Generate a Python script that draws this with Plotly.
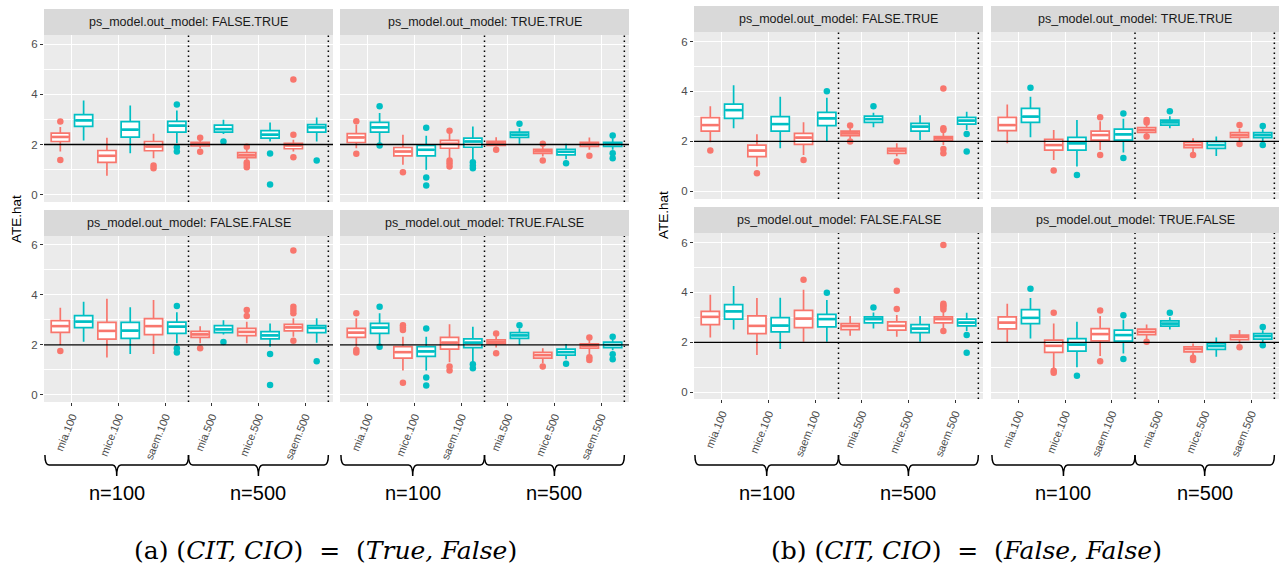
import plotly.graph_objects as go

W, H = 1279, 567

CATS = ["mia.100", "mice.100", "saem.100", "mia.500", "mice.500", "saem.500"]
POS = [1, 2, 3, 4, 5, 6]
RED = "#F8766D"
CYAN = "#00BFC4"

# (lower whisker, q1, median, q3, upper whisker) per category
# ---------- panel (a): (CIT, CIO) = (True, False) ----------
A_FT_RED = [(1.72, 2.12, 2.30, 2.45, 2.70), (0.76, 1.29, 1.55, 1.76, 2.27), (1.45, 1.75, 1.92, 2.12, 2.43),
            (1.85, 1.94, 2.02, 2.09, 2.20), (1.39, 1.48, 1.57, 1.68, 1.79), (1.72, 1.83, 1.96, 2.05, 2.19)]
A_FT_RED_OUT = [[2.92, 1.38], [], [1.16, 1.05], [2.27, 1.71], [1.91, 1.28, 1.19, 1.09], [2.39, 4.59, 1.49]]
A_FT_CYAN = [(2.16, 2.72, 2.96, 3.19, 3.75), (1.65, 2.29, 2.59, 2.91, 3.55), (2.05, 2.49, 2.75, 2.92, 3.35),
             (2.42, 2.49, 2.61, 2.77, 2.99), (2.12, 2.25, 2.39, 2.55, 2.88), (2.12, 2.49, 2.68, 2.79, 3.07)]
A_FT_CYAN_OUT = [[], [], [3.59, 1.89, 1.72], [2.12], [1.64, 0.41], [1.36]]

A_TT_RED = [(1.85, 2.08, 2.28, 2.43, 2.79), (1.19, 1.55, 1.72, 1.88, 2.39), (1.45, 1.85, 2.03, 2.16, 2.45),
            (1.92, 1.96, 2.05, 2.13, 2.29), (1.52, 1.65, 1.73, 1.81, 1.96), (1.79, 1.92, 2.01, 2.09, 2.28)]
A_TT_RED_OUT = [[2.93, 1.63], [0.89], [2.55, 1.36, 1.25, 1.12], [1.79], [2.03, 1.36], [1.55]]
A_TT_CYAN = [(2.03, 2.49, 2.68, 2.88, 3.25), (0.99, 1.55, 1.79, 1.96, 2.35), (1.39, 1.89, 2.12, 2.25, 2.72),
             (2.03, 2.28, 2.39, 2.49, 2.65), (1.41, 1.59, 1.71, 1.81, 2.03), (1.79, 1.92, 2.01, 2.09, 2.25)]
A_TT_CYAN_OUT = [[3.52, 1.96], [2.67, 0.69, 0.37], [1.29, 1.16, 1.05], [2.83], [1.25], [2.36, 1.65, 1.45]]

A_FF_RED = [(2.00, 2.50, 2.75, 2.97, 3.48), (1.50, 2.23, 2.56, 2.90, 3.84), (1.64, 2.41, 2.75, 3.05, 3.79),
            (2.07, 2.30, 2.42, 2.54, 2.75), (2.07, 2.37, 2.52, 2.66, 2.93), (2.33, 2.56, 2.70, 2.82, 3.06)]
A_FF_RED_OUT = [[1.76], [], [], [1.87], [3.39, 3.15], [5.77, 3.52, 3.39, 3.26, 2.17]]
A_FF_CYAN = [(2.13, 2.69, 2.93, 3.17, 3.72), (1.64, 2.26, 2.57, 2.90, 3.50), (2.07, 2.46, 2.73, 2.91, 3.30),
             (2.42, 2.49, 2.62, 2.77, 2.99), (1.93, 2.24, 2.38, 2.53, 2.86), (2.09, 2.49, 2.68, 2.77, 3.06)]
A_FF_CYAN_OUT = [[], [], [3.55, 1.87, 1.70], [2.12], [1.64, 0.40], [1.35]]

A_TF_RED = [(1.93, 2.30, 2.49, 2.66, 3.06), (0.98, 1.47, 1.71, 1.93, 2.33), (1.31, 1.83, 2.09, 2.30, 2.83),
            (1.90, 2.04, 2.12, 2.20, 2.35), (1.27, 1.47, 1.59, 1.70, 1.87), (1.62, 1.87, 1.97, 2.04, 2.20)]
A_TF_RED_OUT = [[3.26, 1.80, 1.70], [2.79, 2.69, 2.60, 0.49], [1.14, 0.98], [2.46, 1.67], [1.14], [2.30, 1.51, 1.40]]
A_TF_CYAN = [(2.00, 2.46, 2.69, 2.86, 3.26), (0.98, 1.54, 1.74, 1.93, 2.33), (1.31, 1.89, 2.09, 2.24, 2.73),
             (2.00, 2.26, 2.38, 2.49, 2.66), (1.43, 1.59, 1.71, 1.83, 2.04), (1.79, 1.89, 2.00, 2.11, 2.22)]
A_TF_CYAN_OUT = [[3.52, 1.93], [2.66, 0.70, 0.38], [1.23, 1.07], [2.79], [1.25], [2.33, 1.63, 1.43]]

# ---------- panel (b): (CIT, CIO) = (False, False) ----------
B_FT_RED = [(1.96, 2.41, 2.65, 2.95, 3.41), (0.99, 1.39, 1.63, 1.85, 2.28), (1.45, 1.88, 2.15, 2.32, 2.76),
            (2.10, 2.23, 2.32, 2.41, 2.52), (1.40, 1.52, 1.63, 1.72, 1.92), (1.85, 2.03, 2.12, 2.19, 2.35)]
B_FT_RED_OUT = [[1.63], [0.72], [1.25], [2.63, 1.99], [1.19], [4.12, 2.52, 2.45, 1.69, 1.52]]
B_FT_CYAN = [(2.52, 2.92, 3.25, 3.49, 4.25), (1.72, 2.41, 2.69, 2.99, 3.79), (2.01, 2.63, 2.92, 3.16, 3.75),
             (2.56, 2.76, 2.89, 3.01, 3.15), (2.05, 2.41, 2.59, 2.72, 3.05), (2.45, 2.69, 2.83, 2.96, 3.19)]
B_FT_CYAN_OUT = [[], [], [4.01], [3.41], [], [2.29, 1.59]]

B_TT_RED = [(1.92, 2.43, 2.65, 2.96, 3.48), (1.25, 1.65, 1.85, 2.08, 2.45), (1.65, 2.05, 2.25, 2.41, 2.80),
            (2.25, 2.36, 2.45, 2.55, 2.65), (1.55, 1.75, 1.85, 1.96, 2.12), (2.00, 2.16, 2.25, 2.35, 2.50)]
B_TT_RED_OUT = [[], [0.83], [2.96, 1.45], [2.85, 2.75, 2.19], [1.45], [2.65, 1.89]]
B_TT_CYAN = [(2.16, 2.76, 2.99, 3.32, 3.79), (0.99, 1.65, 1.92, 2.16, 2.85), (1.55, 2.05, 2.28, 2.49, 2.90),
             (2.52, 2.65, 2.76, 2.85, 3.00), (1.41, 1.72, 1.85, 1.99, 2.19), (2.00, 2.15, 2.25, 2.35, 2.48)]
B_TT_CYAN_OUT = [[4.15], [0.65], [3.12, 1.33], [3.21], [], [2.61, 1.85]]

B_FF_RED = [(2.19, 2.71, 3.02, 3.24, 3.91), (1.49, 2.35, 2.66, 3.06, 3.78), (2.02, 2.59, 2.95, 3.28, 4.11),
            (2.26, 2.51, 2.65, 2.75, 3.06), (2.22, 2.49, 2.66, 2.82, 3.10), (2.55, 2.78, 2.93, 3.02, 3.25)]
B_FF_RED_OUT = [[], [], [4.51], [], [4.07, 3.34], [5.90, 3.55, 3.48, 3.42, 3.32, 2.45]]
B_FF_CYAN = [(2.51, 2.93, 3.24, 3.51, 4.26), (1.73, 2.42, 2.67, 2.99, 3.79), (2.02, 2.62, 2.93, 3.12, 3.70),
             (2.55, 2.78, 2.93, 3.02, 3.20), (2.02, 2.39, 2.55, 2.71, 3.06), (2.45, 2.66, 2.79, 2.93, 3.19)]
B_FF_CYAN_OUT = [[], [], [3.99], [3.40], [], [2.29, 1.58]]

B_TF_RED = [(2.01, 2.54, 2.79, 3.02, 3.55), (0.95, 1.60, 1.86, 2.09, 2.75), (1.45, 2.06, 2.33, 2.55, 3.05),
            (2.10, 2.31, 2.42, 2.53, 2.71), (1.45, 1.62, 1.73, 1.82, 1.95), (1.95, 2.11, 2.22, 2.29, 2.49)]
B_TF_RED_OUT = [[], [3.19, 0.86, 0.78], [3.28, 1.24], [2.02], [1.38, 1.29], [1.80]]
B_TF_CYAN = [(2.15, 2.75, 2.98, 3.31, 3.78), (1.00, 1.65, 1.91, 2.15, 2.82), (1.55, 2.05, 2.29, 2.49, 2.90),
             (2.51, 2.65, 2.75, 2.86, 3.00), (1.42, 1.72, 1.85, 1.95, 2.19), (1.98, 2.13, 2.25, 2.35, 2.48)]
B_TF_CYAN_OUT = [[4.15], [0.66], [3.09, 1.33], [3.19], [], [2.61, 1.88]]

Y_TICKS = [0, 2, 4, 6]
REF_LINE = 2
SPLITS = [3.5, 6.5]
GROUP_LABELS = ["n=100", "n=500"]
GROUP_SPANS = [(0.42, 3.5), (3.5, 6.5)]
CAPTIONS = ["(a) (<i>CIT, CIO</i>)  =  (<i>True, False</i>)",
            "(b) (<i>CIT, CIO</i>)  =  (<i>False, False</i>)"]

# facet layout (pixel boxes)
FACETS = [
    dict(title="ps_model.out_model: FALSE.TRUE", red=A_FT_RED, ro=A_FT_RED_OUT, cyan=A_FT_CYAN, co=A_FT_CYAN_OUT,
         px=(44, 333), py=(35, 202), sy=(9, 35), yr=(-0.29, 6.36), left=True, bottom=False),
    dict(title="ps_model.out_model: TRUE.TRUE", red=A_TT_RED, ro=A_TT_RED_OUT, cyan=A_TT_CYAN, co=A_TT_CYAN_OUT,
         px=(340, 629), py=(35, 202), sy=(9, 35), yr=(-0.29, 6.36), left=False, bottom=False),
    dict(title="ps_model.out_model: FALSE.FALSE", red=A_FF_RED, ro=A_FF_RED_OUT, cyan=A_FF_CYAN, co=A_FF_CYAN_OUT,
         px=(44, 333), py=(236, 402), sy=(210, 236), yr=(-0.28, 6.35), left=True, bottom=True),
    dict(title="ps_model.out_model: TRUE.FALSE", red=A_TF_RED, ro=A_TF_RED_OUT, cyan=A_TF_CYAN, co=A_TF_CYAN_OUT,
         px=(340, 629), py=(236, 402), sy=(210, 236), yr=(-0.28, 6.35), left=False, bottom=True),
    dict(title="ps_model.out_model: FALSE.TRUE", red=B_FT_RED, ro=B_FT_RED_OUT, cyan=B_FT_CYAN, co=B_FT_CYAN_OUT,
         px=(694, 983), py=(32, 199), sy=(6, 32), yr=(-0.31, 6.38), left=True, bottom=False),
    dict(title="ps_model.out_model: TRUE.TRUE", red=B_TT_RED, ro=B_TT_RED_OUT, cyan=B_TT_CYAN, co=B_TT_CYAN_OUT,
         px=(991, 1279), py=(32, 199), sy=(6, 32), yr=(-0.31, 6.38), left=False, bottom=False),
    dict(title="ps_model.out_model: FALSE.FALSE", red=B_FF_RED, ro=B_FF_RED_OUT, cyan=B_FF_CYAN, co=B_FF_CYAN_OUT,
         px=(694, 983), py=(233, 399), sy=(207, 233), yr=(-0.27, 6.38), left=True, bottom=True),
    dict(title="ps_model.out_model: TRUE.FALSE", red=B_TF_RED, ro=B_TF_RED_OUT, cyan=B_TF_CYAN, co=B_TF_CYAN_OUT,
         px=(991, 1279), py=(233, 399), sy=(207, 233), yr=(-0.27, 6.38), left=False, bottom=True),
]

OFF = 0.25
BW = 0.39


def fx(p):
    return p / W


def fy(p):
    return 1 - p / H


fig = go.Figure()
shapes = []
annotations = []
layout = {}

for k, f in enumerate(FACETS, start=1):
    xa = "x" if k == 1 else f"x{k}"
    ya = "y" if k == 1 else f"y{k}"
    for stats, outs, col, sgn in [(f["red"], f["ro"], RED, -1), (f["cyan"], f["co"], CYAN, 1)]:
        xs = [p + sgn * OFF for p in POS]
        fig.add_trace(go.Box(
            x=xs, lowerfence=[s[0] for s in stats], q1=[s[1] for s in stats], median=[s[2] for s in stats],
            q3=[s[3] for s in stats], upperfence=[s[4] for s in stats],
            width=BW, whiskerwidth=0, boxpoints=False, fillcolor="white",
            line=dict(color=col, width=1.7), xaxis=xa, yaxis=ya, hoverinfo="skip"))
        # thicker median bars (ggplot fatten)
        mx, my = [], []
        for p, s in zip(xs, stats):
            mx += [p - BW / 2 + 0.02, p + BW / 2 - 0.02, None]
            my += [s[2], s[2], None]
        fig.add_trace(go.Scatter(x=mx, y=my, mode="lines", line=dict(color=col, width=2.6),
                                 xaxis=xa, yaxis=ya, hoverinfo="skip"))
        ox, oy = [], []
        for p, o in zip(xs, outs):
            ox += [p] * len(o)
            oy += o
        fig.add_trace(go.Scatter(x=ox, y=oy, mode="markers", marker=dict(color=col, size=6.5),
                                 xaxis=xa, yaxis=ya, hoverinfo="skip"))

    xkey = "xaxis" if k == 1 else f"xaxis{k}"
    ykey = "yaxis" if k == 1 else f"yaxis{k}"
    layout[xkey] = dict(
        domain=[fx(f["px"][0]), fx(f["px"][1])], anchor=ya, range=[0.4, 6.6],
        tickvals=POS, ticktext=CATS, showticklabels=f["bottom"],
        ticks="outside" if f["bottom"] else "", ticklen=3, tickcolor="#333333",
        tickangle=-68, tickfont=dict(family="Liberation Sans, Arial", size=11, color="#4D4D4D"),
        showgrid=True, gridcolor="white", gridwidth=1.2, zeroline=False, showline=False, fixedrange=True)
    layout[ykey] = dict(
        domain=[fy(f["py"][1]), fy(f["py"][0])], anchor=xa, range=list(f["yr"]),
        tickvals=Y_TICKS, showticklabels=f["left"],
        ticks="outside" if f["left"] else "", ticklen=3, tickcolor="#333333",
        tickfont=dict(family="Liberation Sans, Arial", size=11.5, color="#4D4D4D"),
        showgrid=True, gridcolor="white", gridwidth=1.2, zeroline=False, showline=False,
        minor=dict(tickvals=[1, 3, 5], showgrid=True, gridcolor="white", gridwidth=0.6, ticks=""),
        fixedrange=True)

    # strip
    shapes.append(dict(type="rect", xref="paper", yref="paper", x0=fx(f["px"][0]), x1=fx(f["px"][1]),
                       y0=fy(f["sy"][1]), y1=fy(f["sy"][0]), fillcolor="#D9D9D9", line=dict(width=0), layer="below"))
    annotations.append(dict(text=f["title"], xref="paper", yref="paper",
                            x=fx((f["px"][0] + f["px"][1]) / 2), y=fy((f["sy"][0] + f["sy"][1]) / 2),
                            showarrow=False, xanchor="center", yanchor="middle",
                            font=dict(family="Liberation Sans, Arial", size=12.5, color="#1A1A1A")))
    # reference line
    shapes.append(dict(type="line", xref=f"{xa} domain", yref=ya, x0=0, x1=1, y0=REF_LINE, y1=REF_LINE,
                       line=dict(color="black", width=1.4)))
    for s in SPLITS:
        shapes.append(dict(type="line", xref=xa, yref=f"{ya} domain", x0=s, x1=s, y0=0, y1=1,
                           line=dict(color="black", width=1.5, dash="1.5px,3.5px")))

    if f["bottom"]:
        yt, ym, yb = fy(455), fy(465), fy(476)
        for (x0, x1), lab in zip(GROUP_SPANS, GROUP_LABELS):
            xc = (x0 + x1) / 2
            r = 0.09
            path = (f"M {x0},{yt} Q {x0},{ym} {x0 + r},{ym} L {xc - r},{ym} Q {xc},{ym} {xc},{yb} "
                    f"Q {xc},{ym} {xc + r},{ym} L {x1 - r},{ym} Q {x1},{ym} {x1},{yt}")
            shapes.append(dict(type="path", xref=xa, yref="paper", path=path,
                               line=dict(color="black", width=1.5)))
            annotations.append(dict(text=lab, xref=xa, yref="paper", x=xc, y=fy(493), showarrow=False,
                                    xanchor="center", yanchor="middle",
                                    font=dict(family="Liberation Sans, Arial", size=20, color="black")))

# y axis titles
for xp, yp in [(16, 219), (663, 215)]:
    annotations.append(dict(text="ATE.hat", xref="paper", yref="paper", x=fx(xp), y=fy(yp), textangle=-90,
                            showarrow=False, xanchor="center", yanchor="middle",
                            font=dict(family="Liberation Sans, Arial", size=13.5, color="black")))
# captions
for xp, txt in zip([325, 966], CAPTIONS):
    annotations.append(dict(text=txt, xref="paper", yref="paper", x=fx(xp), y=fy(550), showarrow=False,
                            xanchor="center", yanchor="middle",
                            font=dict(family="DejaVu Serif, serif", size=25, color="black")))

fig.update_layout(
    width=W, height=H, margin=dict(l=0, r=0, t=0, b=0), autosize=False,
    paper_bgcolor="white", plot_bgcolor="#EBEBEB", showlegend=False, boxmode="overlay",
    shapes=shapes, annotations=annotations, **layout)

fig.write_html("out.html", config={"displayModeBar": False},
               post_script="document.body.style.margin='0';document.body.style.overflow='hidden';")
